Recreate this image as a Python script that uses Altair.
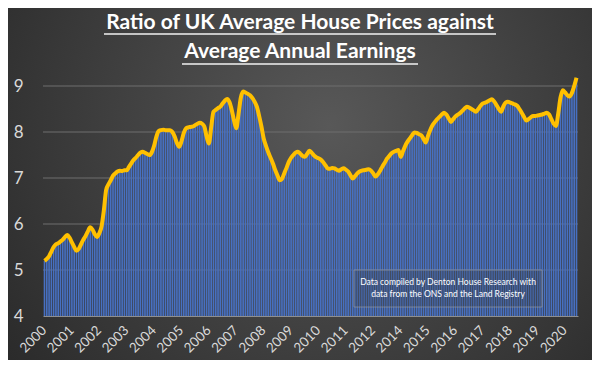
import altair as alt
import pandas as pd

# Monthly ratio of average house price to average annual earnings
ratio = [
    5.20, 5.24, 5.30, 5.40, 5.50, 5.56, 5.58, 5.62, 5.66, 5.72, 5.76, 5.70,
    5.60, 5.50, 5.42, 5.46, 5.56, 5.66, 5.74, 5.84, 5.93, 5.88, 5.78, 5.72,
    5.80, 5.95, 6.30, 6.74, 6.86, 6.95, 7.05, 7.10, 7.14, 7.16, 7.15, 7.17,
    7.17, 7.24, 7.32, 7.39, 7.44, 7.50, 7.55, 7.57, 7.55, 7.52, 7.50, 7.56,
    7.70, 7.90, 8.02, 8.04, 8.05, 8.04, 8.04, 8.04, 8.00, 7.90, 7.76, 7.68,
    7.80, 7.98, 8.08, 8.10, 8.11, 8.12, 8.15, 8.18, 8.20, 8.18, 8.12, 7.90,
    7.75, 8.10, 8.44, 8.48, 8.52, 8.55, 8.62, 8.68, 8.72, 8.65, 8.48, 8.25,
    8.08, 8.40, 8.75, 8.88, 8.86, 8.83, 8.80, 8.74, 8.66, 8.55, 8.35, 8.12,
    7.86, 7.70, 7.56, 7.44, 7.32, 7.18, 7.06, 6.95, 6.98, 7.10, 7.22, 7.35,
    7.44, 7.50, 7.55, 7.57, 7.53, 7.48, 7.46, 7.52, 7.59, 7.55, 7.49, 7.45,
    7.43, 7.40, 7.35, 7.28, 7.21, 7.20, 7.22, 7.21, 7.18, 7.16, 7.19, 7.21,
    7.18, 7.14, 7.06, 6.99, 7.04, 7.10, 7.14, 7.16, 7.17, 7.18, 7.19, 7.16,
    7.10, 7.03, 7.08, 7.16, 7.25, 7.33, 7.42, 7.48, 7.54, 7.57, 7.59, 7.61,
    7.46, 7.58, 7.70, 7.79, 7.86, 7.93, 7.99, 7.98, 7.95, 7.93, 7.85, 7.77,
    7.92, 8.05, 8.15, 8.22, 8.28, 8.33, 8.38, 8.42, 8.38, 8.30, 8.22, 8.28,
    8.34, 8.38, 8.41, 8.46, 8.51, 8.55, 8.53, 8.50, 8.47, 8.44, 8.50, 8.57,
    8.62, 8.64, 8.66, 8.69, 8.71, 8.66, 8.58, 8.50, 8.44, 8.56, 8.64, 8.66,
    8.64, 8.62, 8.60, 8.57, 8.50, 8.42, 8.33, 8.25, 8.28, 8.32, 8.35, 8.35,
    8.36, 8.37, 8.38, 8.40, 8.42, 8.38, 8.28, 8.18, 8.13, 8.40, 8.75, 8.91,
    8.86, 8.80, 8.77, 8.85, 9.00, 9.18,
]

# Category-axis labels as printed on the chart (one every 12 months; 2013 is not shown)
tick_months = [0, 12, 24, 36, 48, 60, 72, 84, 96, 108, 120, 132, 144,
               156, 168, 180, 192, 204, 216, 228]
tick_labels = ["2000", "2001", "2002", "2003", "2004", "2005", "2006", "2007",
               "2008", "2009", "2010", "2011", "2012", "2014", "2015", "2016",
               "2017", "2018", "2019", "2020"]
y_ticks = [4, 5, 6, 7, 8, 9]
grid_values = [5, 6, 7, 8, 9]

title_lines = ["Ratio of UK Average House Prices against", "Average Annual Earnings"]
note_lines = ["Data compiled by Denton House Research with",
              "data from the ONS and the Land Registry"]

df = pd.DataFrame({"m": list(range(len(ratio))), "ratio": ratio})
grid_df = pd.DataFrame({"ratio": grid_values})

W, H = 535, 253
FONT = "Lato"
LABEL = "#d9d9d9"

labels_js = "[" + ",".join(f"'{t}'" for t in tick_labels) + "]"
months_js = "[" + ",".join(str(m) for m in tick_months) + "]"

x_enc = alt.X(
    "m:O",
    scale=alt.Scale(paddingInner=0.28, paddingOuter=0.3),
    axis=alt.Axis(
        values=tick_months,
        labelExpr=f"{labels_js}[indexof({months_js}, datum.value)]",
        labelAngle=-45, labelAlign="right", labelBaseline="middle",
        labelPadding=12, labelFont=FONT, labelFontSize=13.5, labelColor=LABEL,
        ticks=False, domain=True, domainColor="#8f8f8f", domainWidth=1,
        grid=False, title=None, zindex=1,
    ),
)
y_scale = alt.Scale(domain=[4, 9.5], nice=False, zero=False)
y_axis = alt.Axis(
    values=y_ticks, labelFont=FONT, labelFontSize=17, labelColor=LABEL,
    labelPadding=20, ticks=False, domain=False, grid=False,
    title=None, zindex=1,
)

one = alt.Data(values=[{}])

bg = alt.Chart(one).mark_rect(
    fill=alt.Gradient(
        gradient="radial", x1=0.55, y1=0.4, x2=0.55, y2=0.4, r1=0, r2=0.75,
        stops=[alt.GradientStop(color="#585858", offset=0),
               alt.GradientStop(color="#262626", offset=1)],
    )
).encode(x=alt.value(-35), x2=alt.value(W + 14), y=alt.value(-55), y2=alt.value(H + 44))

grid = alt.Chart(grid_df).mark_rule(color="#6e6e6e", strokeWidth=1).encode(
    y=alt.Y("ratio:Q", scale=y_scale, axis=y_axis)
)

bars = alt.Chart(df).mark_bar(color="#4770c2").encode(
    x=x_enc, y=alt.Y("ratio:Q", scale=y_scale, axis=y_axis), y2=alt.datum(4)
)

line = alt.Chart(df).mark_line(
    color="#ffc000", strokeWidth=4, interpolate="monotone", strokeJoin="round"
).encode(x="m:O", y="ratio:Q")

title_layers = []
for t, yb, yu, half in zip(title_lines, [-34, -5], [-29, 1], [196, 118]):
    title_layers.append(
        alt.Chart(one).mark_text(
            text=t, font=FONT, fontWeight="bold", fontSize=21, color="#ffffff",
            align="center", baseline="alphabetic",
        ).encode(x=alt.value(257), y=alt.value(yb))
    )
    title_layers.append(
        alt.Chart(one).mark_rule(color="#f2f2f2", strokeWidth=1.6).encode(
            x=alt.value(257 - half), x2=alt.value(257 + half), y=alt.value(yu)
        )
    )

box = alt.Chart(one).mark_rect(
    fill="#3a3a3a", fillOpacity=0.25, stroke="#a0a0a0", strokeOpacity=0.6, strokeWidth=1
).encode(x=alt.value(311), x2=alt.value(499), y=alt.value(207), y2=alt.value(244))

notes = [
    alt.Chart(one).mark_text(
        text=t, font=FONT, fontSize=8.5, color="#ffffff", align="center", baseline="middle"
    ).encode(x=alt.value(405), y=alt.value(yy))
    for t, yy in zip(note_lines, [219, 231])
]

chart = alt.layer(bg, grid, bars, line, box, *notes, *title_layers).properties(
    width=W, height=H,
    padding={"left": 35, "top": 55, "right": 14, "bottom": 44},
    autosize=alt.AutoSizeParams(type="none"),
    background="#2c2c2c",
).configure_view(stroke=None)

chart.save("out.html", embed_options={"renderer": "svg", "actions": False})
